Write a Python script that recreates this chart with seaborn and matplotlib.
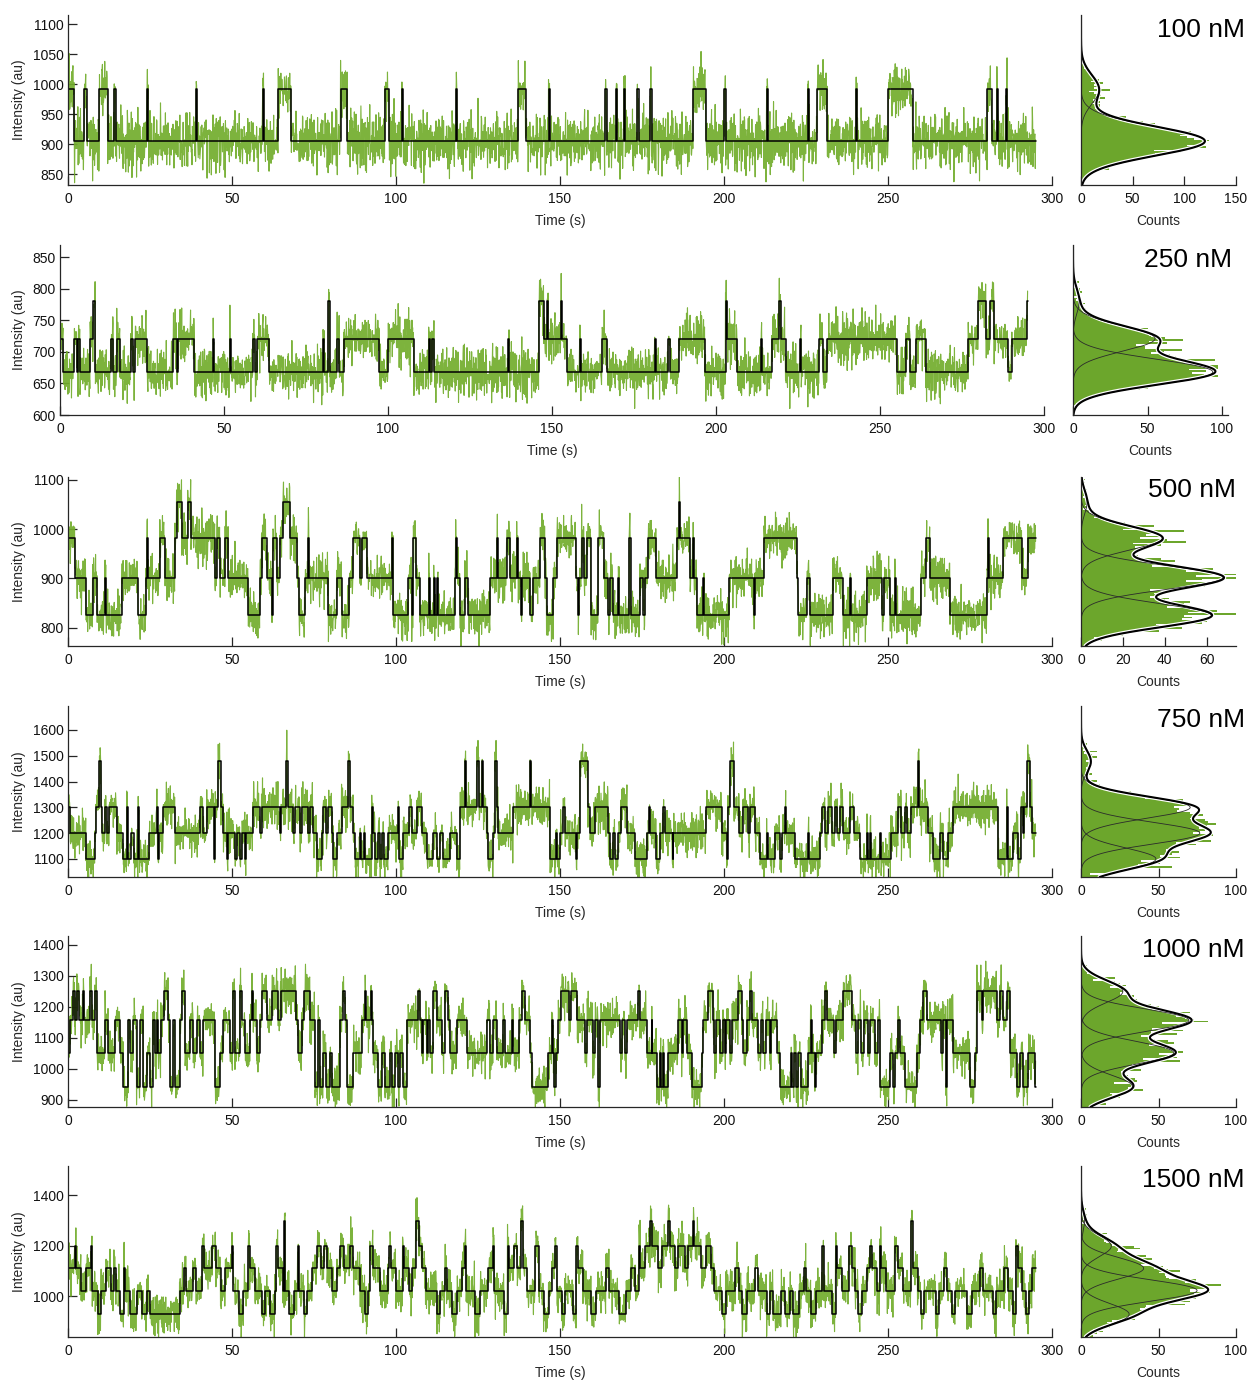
import numpy as np
import matplotlib
matplotlib.use("Agg")
import matplotlib.pyplot as plt
import seaborn as sns

# ---------------------------------------------------------------- data
CONC_LABELS = ["100 nM", "250 nM", "500 nM", "750 nM", "1000 nM", "1500 nM"]

# fitted intensity levels (au) for each concentration
LEVELS_100 = [905, 991]
LEVELS_250 = [668, 721, 780]
LEVELS_500 = [825, 902, 982, 1055]
LEVELS_750 = [1100, 1200, 1300, 1478]
LEVELS_1000 = [943, 1052, 1157, 1250]
LEVELS_1500 = [928, 1022, 1110, 1198, 1297]

# step fits: (start time in s, level index)
STEPS_100 = [
    (0, 1), (1.9, 0), (5.0, 1), (5.7, 0), (9.6, 1), (12.1, 0), (14.1, 1), (14.5, 0),
    (24.1, 1), (24.5, 0), (39.0, 1), (39.4, 0), (59.3, 1), (59.7, 0), (64.1, 1), (68.0, 0),
    (83.1, 1), (85.2, 0), (96.6, 1), (97.9, 0), (101.7, 1), (102.1, 0), (118.3, 1), (118.7, 0),
    (137.3, 1), (139.5, 0), (146.5, 1), (146.9, 0), (163.8, 1), (164.2, 0), (167.1, 1), (167.5, 0),
    (169.5, 1), (169.9, 0), (173.6, 1), (174.0, 0), (177.5, 1), (177.9, 0), (190.6, 1), (194.5, 0),
    (200.1, 1), (200.5, 0), (213.0, 1), (213.4, 0), (225.5, 1), (225.9, 0), (228.4, 1), (231.5, 0),
    (240.2, 1), (240.6, 0), (250.1, 1), (257.5, 0), (280.3, 1), (281.6, 0), (283.2, 1), (283.6, 0),
    (286.0, 1), (286.4, 0),
]
STEPS_250 = [
    (0, 1), (1.0, 0), (4.4, 1), (5.1, 0), (5.6, 1), (6.1, 0), (9.2, 1), (10.2, 2), (10.8, 0),
    (15.5, 1), (16.3, 0), (17.3, 1), (18.3, 0), (21.6, 1), (22.2, 0), (22.9, 1), (26.5, 0),
    (34.4, 1), (35.6, 0), (36.1, 1), (41.0, 0), (46.7, 1), (47.0, 0), (51.8, 1), (52.1, 0),
    (58.8, 1), (59.6, 0), (60.2, 1), (63.8, 0), (80.2, 1), (80.6, 0), (81.8, 2), (82.2, 0),
    (84.4, 1), (85.2, 0), (86.5, 1), (97.4, 0), (100.0, 1), (107.8, 0), (112.4, 1), (112.9, 0),
    (113.4, 1), (114.1, 0), (136.7, 1), (137.0, 0), (146.0, 2), (147.5, 1), (148.5, 2), (148.9, 1),
    (152.7, 2), (153.0, 1), (154.6, 0), (158.4, 1), (158.7, 0), (165.3, 1), (166.8, 0), (181.3, 1),
    (181.6, 0), (185.4, 1), (186.1, 0), (188.7, 1), (196.6, 0), (202.9, 2), (203.4, 1), (206.5, 0),
    (213.7, 1), (214.0, 0), (217.0, 1), (219.2, 2), (219.7, 1), (221.2, 0), (225.7, 1), (226.0, 0),
    (231.4, 1), (232.7, 0), (233.9, 1), (255.1, 0), (257.9, 1), (259.2, 0), (260.9, 1), (263.9, 0),
    (276.9, 1), (280.0, 2), (282.3, 1), (283.6, 2), (284.8, 1), (288.9, 0), (290.1, 1), (294.8, 2),
]
STEPS_500 = [
    (0, 2), (2.1, 1), (5.5, 0), (7.5, 1), (8.9, 0), (11.2, 1), (11.6, 0), (16.4, 1), (21.4, 0),
    (23.8, 1), (24.0, 2), (24.3, 1), (28.0, 2), (29.6, 1), (32.6, 2), (33.1, 3), (34.7, 2),
    (36.5, 3), (37.5, 2), (44.8, 1), (45.3, 2), (46.3, 1), (47.9, 2), (48.9, 1), (55.0, 0),
    (58.5, 1), (59.0, 2), (60.6, 1), (62.1, 0), (62.4, 2), (63.6, 1), (64.6, 2), (65.6, 3),
    (67.7, 2), (69.9, 1), (70.5, 0), (72.3, 1), (73.2, 2), (73.5, 1), (79.4, 0), (81.9, 1),
    (83.4, 0), (85.8, 1), (87.0, 2), (89.0, 1), (89.5, 2), (91.1, 1), (98.7, 2), (99.2, 0),
    (103.8, 1), (104.8, 0), (105.3, 2), (106.1, 1), (107.3, 0), (110.0, 1), (110.3, 0), (111.5, 1),
    (111.8, 0), (112.6, 1), (112.9, 0), (118.0, 1), (118.2, 2), (118.6, 1), (119.5, 0), (121.0, 1),
    (122.0, 0), (128.7, 1), (130.7, 2), (131.0, 1), (133.7, 2), (134.8, 1), (136.8, 2), (137.2, 1),
    (138.2, 0), (138.5, 1), (140.9, 0), (141.7, 1), (143.9, 2), (145.4, 1), (145.9, 0), (148.0, 1),
    (149.0, 2), (154.9, 1), (155.6, 0), (155.9, 1), (156.6, 2), (157.3, 1), (158.1, 2), (159.4, 0),
    (161.7, 2), (163.4, 1), (164.7, 0), (165.2, 1), (166.1, 0), (167.8, 1), (168.1, 0), (171.1, 2),
    (171.5, 0), (174.4, 1), (175.4, 0), (175.9, 1), (176.9, 2), (179.3, 1), (185.6, 2), (186.3, 3),
    (186.6, 2), (189.6, 1), (190.4, 2), (190.9, 1), (191.7, 0), (193.7, 1), (194.0, 0), (201.6, 1),
    (209.0, 0), (209.3, 1), (212.2, 2), (222.2, 1), (222.6, 0), (225.2, 1), (226.2, 0), (233.1, 1),
    (236.2, 0), (238.4, 1), (238.7, 0), (243.5, 1), (248.1, 0), (248.8, 1), (250.6, 0), (252.1, 1),
    (252.4, 0), (260.0, 1), (261.6, 2), (262.8, 1), (268.9, 0), (280.1, 1), (280.4, 2), (280.7, 1),
    (285.2, 2), (290.8, 1), (292.6, 2),
]
STEPS_750 = [
    (0, 2), (0.6, 1), (5.5, 0), (8.2, 1), (8.5, 2), (9.6, 3), (10.1, 2), (10.3, 1), (11.3, 2),
    (11.8, 1), (12.6, 2), (14.8, 1), (16.7, 0), (17.9, 2), (18.2, 0), (19.2, 1), (20.1, 0),
    (21.4, 2), (21.7, 0), (24.8, 1), (27.0, 2), (27.3, 0), (27.8, 1), (29.1, 2), (32.6, 1),
    (40.2, 2), (41.1, 1), (42.3, 2), (44.6, 0), (44.9, 2), (45.8, 3), (46.5, 2), (47.4, 1),
    (48.6, 0), (48.9, 1), (50.9, 0), (51.4, 1), (52.4, 0), (52.9, 1), (54.0, 0), (54.3, 1),
    (56.3, 2), (58.5, 1), (59.0, 2), (64.6, 1), (64.9, 2), (66.6, 3), (67.0, 2), (68.7, 1),
    (69.2, 2), (70.7, 1), (71.2, 2), (73.3, 1), (73.8, 2), (74.8, 1), (75.8, 0), (77.3, 1),
    (77.8, 2), (78.8, 1), (79.3, 2), (80.4, 1), (80.9, 0), (82.1, 1), (83.4, 2), (85.5, 3),
    (86.0, 2), (87.0, 1), (87.5, 0), (88.9, 1), (89.2, 0), (90.3, 1), (90.6, 0), (92.6, 2),
    (93.1, 1), (93.6, 0), (94.6, 1), (95.0, 0), (95.8, 1), (96.2, 0), (97.7, 1), (100.7, 2),
    (101.0, 0), (102.2, 1), (104.1, 2), (104.8, 1), (106.3, 2), (107.8, 1), (109.4, 0), (111.4, 1),
    (112.4, 0), (113.4, 1), (114.4, 0), (116.5, 1), (118.5, 0), (119.5, 2), (121.0, 3), (121.4, 2),
    (124.6, 3), (125.3, 2), (126.1, 3), (126.6, 2), (127.6, 1), (128.1, 0), (129.7, 1), (130.2, 3),
    (130.7, 2), (131.2, 1), (135.8, 2), (140.9, 3), (141.3, 2), (146.9, 0), (148.8, 1), (149.2, 0),
    (150.0, 1), (150.8, 2), (151.5, 1), (154.9, 0), (155.2, 1), (156.1, 3), (158.4, 2), (159.1, 1),
    (160.7, 2), (164.7, 1), (165.2, 0), (166.3, 1), (166.8, 0), (167.8, 1), (168.5, 2), (170.5, 1),
    (172.9, 0), (176.4, 1), (177.2, 2), (177.5, 1), (179.3, 0), (180.5, 1), (181.5, 2), (182.0, 1),
    (184.3, 0), (184.6, 1), (194.5, 2), (199.3, 1), (200.8, 0), (201.1, 2), (201.8, 3), (203.0, 2),
    (204.7, 1), (205.7, 2), (207.4, 1), (207.9, 2), (209.5, 1), (211.0, 0), (213.0, 1), (213.3, 0),
    (215.5, 1), (217.1, 0), (217.6, 1), (218.6, 2), (218.9, 1), (221.6, 0), (225.7, 1), (226.0, 0),
    (229.3, 1), (229.8, 2), (230.8, 1), (231.8, 2), (232.8, 1), (233.8, 2), (234.6, 1), (235.4, 2),
    (236.4, 1), (238.4, 2), (239.6, 1), (241.5, 0), (243.5, 1), (243.8, 0), (244.5, 1), (244.8, 0),
    (247.5, 1), (247.8, 0), (250.8, 1), (253.1, 2), (254.1, 1), (255.2, 2), (255.9, 1), (256.9, 2),
    (259.2, 3), (259.6, 2), (262.3, 1), (263.8, 0), (265.9, 1), (266.9, 0), (268.4, 1), (269.7, 2),
    (283.6, 0), (286.2, 2), (286.5, 0), (288.2, 1), (289.7, 0), (290.5, 2), (291.3, 1), (291.6, 2),
    (292.5, 3), (293.3, 2), (294.0, 1),
]
STEPS_1000 = [
    (0, 1), (0.6, 2), (1.4, 3), (2.0, 2), (2.6, 3), (3.5, 2), (4.5, 3), (5.0, 2), (6.7, 3),
    (7.2, 2), (8.2, 3), (8.9, 1), (11.3, 2), (12.3, 1), (14.3, 2), (15.9, 1), (16.9, 0), (18.4, 2),
    (19.0, 1), (19.9, 2), (20.9, 0), (22.0, 2), (23.0, 0), (24.0, 1), (25.0, 0), (25.8, 2),
    (26.5, 1), (27.0, 2), (27.5, 1), (28.3, 2), (29.3, 3), (30.6, 2), (31.1, 0), (32.1, 2),
    (32.6, 0), (34.1, 2), (34.7, 3), (35.7, 1), (37.2, 2), (38.2, 1), (39.4, 2), (40.2, 1),
    (41.3, 2), (44.8, 0), (46.3, 1), (47.4, 2), (49.4, 1), (50.2, 3), (50.9, 1), (52.4, 3),
    (52.9, 2), (54.0, 1), (55.5, 2), (56.0, 3), (56.5, 2), (57.5, 1), (58.5, 2), (59.0, 3),
    (60.6, 2), (62.1, 3), (64.1, 2), (64.8, 3), (69.5, 2), (70.2, 1), (71.2, 2), (72.0, 3),
    (73.8, 2), (75.3, 0), (76.3, 2), (76.7, 0), (77.8, 1), (78.8, 0), (79.8, 1), (80.4, 0),
    (82.9, 2), (83.7, 3), (84.5, 2), (85.2, 0), (87.0, 1), (89.5, 2), (90.5, 3), (90.9, 2),
    (92.3, 3), (92.6, 2), (93.1, 1), (94.6, 0), (95.6, 1), (96.6, 0), (98.2, 1), (98.7, 0),
    (99.7, 1), (100.7, 0), (101.2, 1), (102.2, 0), (103.3, 2), (106.8, 3), (107.3, 2), (107.8, 1),
    (108.3, 2), (109.3, 1), (109.8, 2), (110.3, 1), (111.4, 3), (112.4, 2), (113.9, 1), (114.9, 3),
    (116.0, 2), (116.5, 1), (118.5, 2), (121.7, 1), (127.6, 2), (128.6, 1), (129.7, 2), (130.7, 1),
    (132.7, 2), (133.2, 1), (135.3, 2), (135.8, 1), (137.6, 2), (138.3, 3), (139.3, 2), (140.9, 1),
    (141.4, 0), (146.4, 1), (147.5, 2), (148.0, 1), (148.3, 0), (148.7, 1), (149.5, 2), (150.2, 3),
    (152.8, 2), (153.3, 3), (155.1, 2), (157.6, 1), (158.3, 2), (160.0, 1), (160.7, 2), (161.7, 0),
    (162.2, 2), (168.3, 1), (169.0, 2), (169.7, 1), (170.5, 2), (173.9, 3), (174.3, 2), (176.4, 1),
    (177.9, 2), (178.2, 1), (179.5, 0), (180.5, 1), (180.8, 0), (181.3, 1), (181.7, 0), (183.0, 1),
    (186.1, 2), (187.1, 1), (187.6, 2), (188.8, 1), (190.2, 0), (193.2, 1), (193.7, 2), (195.2, 3),
    (196.7, 2), (197.0, 1), (197.7, 2), (198.7, 1), (199.7, 2), (200.2, 1), (200.7, 2), (201.7, 1),
    (202.5, 2), (204.4, 3), (205.4, 2), (205.9, 1), (206.9, 2), (207.9, 3), (208.4, 2), (210.4, 1),
    (211.4, 2), (211.9, 1), (212.7, 2), (213.9, 1), (214.4, 2), (216.3, 1), (217.1, 0), (220.4, 1),
    (220.7, 0), (221.4, 1), (222.0, 0), (222.7, 1), (223.4, 0), (225.7, 1), (226.4, 2), (226.8, 1),
    (227.6, 0), (227.9, 1), (229.8, 2), (230.8, 3), (231.5, 2), (233.5, 1), (234.1, 2), (236.4, 3),
    (238.9, 2), (240.2, 1), (240.9, 2), (241.9, 1), (242.6, 2), (243.9, 1), (244.6, 2), (245.9, 1),
    (246.9, 2), (247.6, 0), (250.6, 1), (251.6, 0), (252.1, 1), (253.1, 2), (253.6, 1), (255.2, 0),
    (258.7, 1), (259.8, 2), (260.8, 3), (261.8, 2), (266.3, 1), (266.7, 2), (267.7, 0), (268.0, 2),
    (269.9, 1), (275.0, 0), (276.5, 1), (277.0, 3), (278.6, 2), (279.1, 3), (283.1, 2), (284.1, 3),
    (285.1, 2), (286.2, 3), (287.2, 1), (289.2, 0), (290.2, 1), (291.2, 0), (292.8, 1), (294.8, 0),
]
STEPS_1500 = [
    (0, 2), (2.0, 3), (2.5, 2), (4.0, 1), (5.5, 2), (7.0, 3), (7.4, 1), (9.0, 0), (10.0, 1),
    (11.5, 2), (13.0, 1), (14.0, 2), (14.5, 1), (16.0, 0), (17.0, 2), (17.4, 1), (19.0, 0),
    (21.0, 1), (22.5, 0), (24.0, 1), (25.0, 0), (34.0, 1), (35.5, 2), (36.0, 1), (38.0, 2),
    (39.0, 1), (41.0, 3), (41.5, 2), (44.0, 3), (45.0, 2), (46.5, 1), (48.0, 2), (50.0, 3),
    (50.4, 1), (52.0, 0), (53.5, 1), (55.0, 3), (55.4, 2), (57.0, 1), (59.0, 0), (60.0, 1),
    (61.5, 0), (63.0, 1), (63.5, 3), (64.0, 2), (65.5, 1), (66.0, 4), (66.3, 1), (67.5, 0),
    (69.0, 1), (70.0, 3), (70.4, 1), (72.0, 0), (73.0, 1), (74.5, 2), (76.0, 3), (77.0, 2),
    (78.0, 3), (79.0, 2), (80.5, 1), (82.0, 2), (83.0, 3), (84.0, 2), (86.0, 3), (87.0, 2),
    (89.0, 1), (90.5, 0), (91.5, 1), (92.0, 3), (93.0, 2), (95.0, 1), (97.5, 2), (98.0, 3),
    (98.4, 2), (100.0, 1), (102.0, 3), (102.5, 2), (104.0, 1), (105.0, 2), (106.0, 4), (107.0, 3),
    (108.0, 2), (109.0, 1), (112.5, 0), (113.5, 1), (115.0, 2), (115.4, 1), (117.0, 0), (118.5, 1),
    (120.0, 2), (121.0, 3), (121.4, 1), (124.0, 0), (125.5, 1), (128.0, 2), (129.5, 3), (130.0, 1),
    (133.0, 0), (134.0, 3), (134.5, 2), (136.0, 3), (137.0, 2), (138.0, 4), (138.8, 2), (140.0, 1),
    (142.5, 3), (143.5, 1), (145.0, 0), (146.5, 1), (147.5, 2), (148.5, 3), (149.0, 1), (150.5, 0),
    (151.5, 1), (154.0, 0), (155.0, 3), (155.5, 2), (157.0, 1), (159.5, 0), (161.0, 1), (164.0, 2),
    (165.0, 1), (168.0, 0), (170.0, 1), (171.5, 2), (173.0, 1), (174.0, 3), (174.5, 2), (176.0, 3),
    (177.5, 4), (178.0, 3), (180.0, 2), (181.0, 3), (183.0, 4), (183.4, 3), (185.0, 2), (186.0, 3),
    (188.0, 2), (189.0, 3), (190.5, 4), (191.0, 3), (193.0, 2), (194.5, 3), (196.0, 2), (197.0, 1),
    (199.5, 0), (200.5, 1), (203.5, 2), (204.5, 1), (205.5, 0), (207.0, 1), (209.5, 2), (210.5, 1),
    (213.0, 0), (214.0, 1), (215.0, 0), (217.5, 1), (218.5, 0), (220.0, 1), (221.0, 0), (223.0, 1),
    (224.5, 2), (225.0, 1), (226.5, 0), (228.0, 1), (230.0, 3), (230.4, 1), (233.0, 0), (234.0, 3),
    (234.4, 2), (236.0, 1), (238.0, 3), (239.0, 2), (240.0, 1), (241.0, 0), (242.0, 1), (243.5, 2),
    (244.5, 3), (245.0, 2), (246.5, 1), (247.5, 3), (248.0, 2), (249.5, 1), (252.0, 3), (253.0, 2),
    (254.5, 1), (257.0, 4), (257.5, 2), (259.0, 1), (260.0, 0), (261.0, 1), (264.5, 0), (265.5, 1),
    (267.0, 2), (268.0, 1), (269.5, 0), (270.5, 1), (274.0, 0), (275.5, 1), (278.0, 2), (279.0, 1),
    (282.0, 0), (283.0, 1), (285.5, 2), (286.5, 1), (288.0, 0), (289.0, 3), (289.5, 2), (291.0, 1),
    (292.0, 0), (293.0, 1), (294.0, 2),
]

# per-trace noise amplitude (au) and residual tables (unit variance)
NOISE_SD = [24, 20, 24, 42, 36, 42]
RESID_A = [
    0.42, -1.13, 0.87, -0.25, 1.61, -0.78, 0.05, -1.94, 1.12, 0.33,
    -0.61, 2.07, -0.14, -1.37, 0.69, 0.21, -0.92, 1.48, -0.43, 0.96,
    -2.21, 0.58, -0.07, 1.29, -1.05, 0.14, 0.81, -1.58, 0.37, -0.29,
    1.85, -0.66, 0.02, -1.21, 0.74, 1.03, -0.48, -0.88, 2.35, -0.19,
    0.51, -1.72, 0.26, 1.17, -0.95, -0.34, 0.63, -1.46, 1.39, 0.09,
    -0.57, 0.92, -2.02, 0.45, 1.56, -0.71, -0.12, 0.83, -1.29, 0.18,
    1.98, -0.39, -1.01, 0.55, -0.83, 1.24, 0.31, -1.66, 0.72, -0.04,
    1.41, -0.52, -1.18, 0.99, 0.16, -2.43, 0.67, 1.09, -0.36, -0.76,
    1.72, -0.22, 0.48, -1.33, 0.28, 2.18, -0.98, 0.11, -0.63, 1.33,
    -1.52, 0.39, 0.77, -0.09, -1.84, 1.21, 0.59, -0.45, 0.94, -1.11,
    0.24,
]
RESID_B = [
    -0.35, 1.27, -0.82, 0.13, 1.94, -1.41, 0.66, -0.17, -1.02, 0.88,
    0.29, -2.11, 1.15, -0.54, 0.47, 1.62, -0.93, -0.26, 0.71, -1.69,
    2.26, 0.04, -0.75, 1.36, -0.41, -1.24, 0.97, 0.19, -0.61, 1.53,
    -1.87, 0.35, 0.82, -0.08, -1.36, 1.08, 0.57, -0.49, 2.03, -1.15,
    -0.21, 0.63, -0.86, 1.44, 0.11, -1.57, 0.92, -0.33, 0.26, -2.29,
    1.19, 0.44, -0.68, 1.71, -0.97, -0.14, 0.53, -1.48, 0.84, 0.07,
    -0.58, 1.87, -1.26, 0.31, 0.68, -0.39, -1.78, 1.02, 0.21, -0.89,
    1.31, -0.06, 0.75, -1.62, 0.49, 2.41, -1.07, -0.28, 0.61, -0.72,
    1.12, -1.31, 0.16, 0.86, -0.45, -1.93, 1.58, 0.38, -0.15,
]

# axis settings
Y_LIMITS = [(832, 1115), (600, 869), (763, 1106), (1030, 1693), (877, 1429), (838, 1515)]
Y_TICKS = [
    [850, 900, 950, 1000, 1050, 1100],
    [600, 650, 700, 750, 800, 850],
    [800, 900, 1000, 1100],
    [1100, 1200, 1300, 1400, 1500, 1600],
    [900, 1000, 1100, 1200, 1300, 1400],
    [1000, 1200, 1400],
]
HIST_XMAX = [150, 104, 74, 100, 100, 100]
HIST_TICKS = [[0, 50, 100, 150], [0, 50, 100], [0, 20, 40, 60], [0, 50, 100], [0, 50, 100], [0, 50, 100]]
HIST_BIN = [2.8, 2.6, 3.5, 7.2, 5.8, 6.0]

ALL_LEVELS = [LEVELS_100, LEVELS_250, LEVELS_500, LEVELS_750, LEVELS_1000, LEVELS_1500]
ALL_STEPS = [STEPS_100, STEPS_250, STEPS_500, STEPS_750, STEPS_1000, STEPS_1500]

DT = 0.1
T_END = 295.0

# ---------------------------------------------------------------- style
sns.set_theme(style="white")
plt.rcParams["font.family"] = ["Liberation Sans", "DejaVu Sans"]
plt.rcParams["axes.linewidth"] = 0.9

TRACE_GREEN = "#72AD2C"
HIST_GREEN = "#6CA62C"
AXIS_COLOR = "#262626"

W, H = 1249, 1380
fig = plt.figure(figsize=(W / 100, H / 100), dpi=100)

ROW_TOP = [15, 245, 477, 706, 936, 1166]
ROW_BOT = [185, 415, 646, 877, 1107, 1337]
TRACE_LEFT = [68, 60, 68, 68, 68, 68]
HIST_LEFT = [1081, 1073, 1081, 1081, 1081, 1081]
TITLE_POS = [(1245, 30), (1232, 260), (1236, 490), (1245, 720), (1245, 950), (1245, 1180)]


def px_axes(x0, top, w, bottom):
    return fig.add_axes([x0 / W, 1 - bottom / H, w / W, (bottom - top) / H])


def style_axes(ax):
    sns.despine(ax=ax)
    for s in ("left", "bottom"):
        ax.spines[s].set_color(AXIS_COLOR)
        ax.spines[s].set_linewidth(0.9)
    ax.tick_params(direction="in", length=6.5, width=0.9, colors=AXIS_COLOR,
                   labelcolor="#111111", labelsize=10, bottom=True, left=True)
    ax.tick_params(axis="x", pad=5)
    ax.tick_params(axis="y", pad=3)


t = np.round(np.arange(0, T_END + 1e-9, DT), 3)
ra = np.asarray(RESID_A)
rb = np.asarray(RESID_B)
ra = (ra - ra.mean()) / ra.std()
rb = (rb - rb.mean()) / rb.std()
idx = np.arange(t.size)

for k in range(6):
    levels = np.asarray(ALL_LEVELS[k], dtype=float)
    st = np.array([s[0] for s in ALL_STEPS[k]], dtype=float)
    sl = np.array([s[1] for s in ALL_STEPS[k]], dtype=int)

    state = sl[np.searchsorted(st, t, side="right") - 1]
    fit = levels[state]
    resid = (ra[(idx + 17 * k) % ra.size] + rb[(5 * idx + 11 * k) % rb.size]) / np.sqrt(2)
    trace = fit + NOISE_SD[k] * resid

    ylo, yhi = Y_LIMITS[k]

    # intensity trace with step fit
    ax = px_axes(TRACE_LEFT[k], ROW_TOP[k], 984, ROW_BOT[k])
    sns.lineplot(x=t, y=trace, ax=ax, color=TRACE_GREEN, linewidth=0.8, alpha=0.92)
    step_x = np.append(st, T_END)
    step_y = np.append(levels[sl], levels[sl[-1]])
    sns.lineplot(x=step_x, y=step_y, ax=ax, color="black", linewidth=1.1,
                 drawstyle="steps-post", estimator=None, sort=False)
    ax.set_xlim(0, 300)
    ax.set_ylim(ylo, yhi)
    ax.set_xticks([0, 50, 100, 150, 200, 250, 300])
    ax.set_yticks(Y_TICKS[k])
    ax.set_xlabel("Time (s)", fontsize=10, labelpad=6)
    ax.set_ylabel("Intensity (au)", fontsize=10, labelpad=5)
    style_axes(ax)

    # intensity histogram with gaussian mixture
    axh = px_axes(HIST_LEFT[k], ROW_TOP[k], 155, ROW_BOT[k])
    bw = HIST_BIN[k]
    sns.histplot(y=trace, binwidth=bw, binrange=(ylo, yhi), ax=axh, color=HIST_GREEN,
                 alpha=1.0, linewidth=0, element="bars")
    yy = np.linspace(ylo, yhi, 800)
    sd = NOISE_SD[k]
    comps = []
    for i, lv in enumerate(levels):
        n_i = np.count_nonzero(state == i)
        comps.append(n_i * bw / (sd * np.sqrt(2 * np.pi)) * np.exp(-0.5 * ((yy - lv) / sd) ** 2))
    total = np.sum(comps, axis=0)
    axh.plot(total, yy, color="white", linewidth=3.2, solid_capstyle="round")
    for c in comps:
        axh.plot(c, yy, color="#2b2b2b", linewidth=0.6)
    axh.plot(total, yy, color="black", linewidth=1.5)
    axh.set_xlim(0, HIST_XMAX[k])
    axh.set_ylim(ylo, yhi)
    axh.set_xticks(HIST_TICKS[k])
    axh.set_yticks([])
    axh.set_ylabel("")
    axh.set_xlabel("Counts", fontsize=10, labelpad=6)
    style_axes(axh)

    tx, ty = TITLE_POS[k]
    fig.text(tx / W, 1 - ty / H, CONC_LABELS[k], ha="right", va="center", fontsize=19, color="black")

fig.savefig("out.png", dpi=100)
